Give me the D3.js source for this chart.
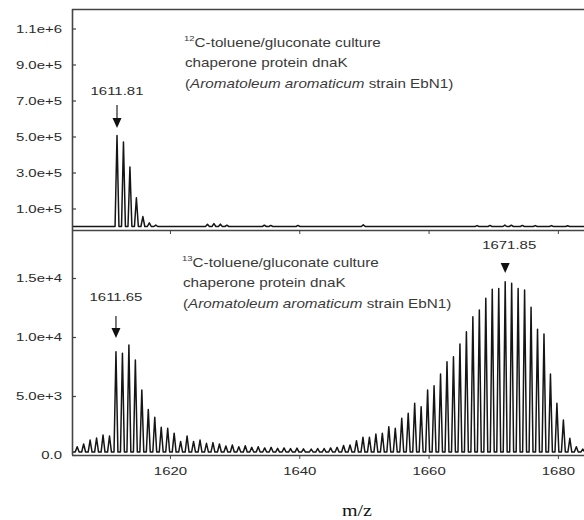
<!DOCTYPE html>
<html>
<head>
<meta charset="utf-8">
<script src="https://cdn.jsdelivr.net/npm/d3@7/dist/d3.min.js"></script>
<style>
  html, body { margin: 0; padding: 0; background: #fff; }
  svg { display: block; }
</style>
</head>
<body>
<svg id="chart" width="584" height="520"></svg>
<script>
// ---- 12C culture spectrum: isotope cluster plus minor signals ----
const lightMz  = [1611.81, 1612.81, 1613.81, 1614.81, 1615.81, 1616.81, 1617.81,
                  1625.8, 1626.8, 1627.8, 1628.8, 1634.6, 1635.6, 1639.8, 1649.9,
                  1667.5, 1669.5, 1671.8, 1672.8, 1674.5, 1676.5, 1679.0, 1681.5];
const lightInt = [505000, 470000, 330000, 160000, 55000, 20000, 8000,
                  12000, 16000, 13000, 7000, 7000, 6000, 6000, 9000,
                  5000, 6000, 8000, 7000, 6000, 5000, 5000, 4000];

// ---- 13C culture spectrum: unlabelled cluster ----
const unlabMz  = [1605.65, 1606.65, 1607.65, 1608.65, 1609.65, 1610.65, 1611.65, 1612.65,
                  1613.65, 1614.65, 1615.65, 1616.65, 1617.65, 1618.65, 1619.65, 1620.65,
                  1621.65, 1622.65, 1623.65, 1624.65, 1625.65, 1626.65, 1627.65, 1628.65,
                  1629.65, 1630.65, 1631.65, 1632.65, 1633.65, 1634.65, 1635.65, 1636.65,
                  1637.65, 1638.65, 1639.65, 1640.65];
const unlabInt = [700, 930, 1270, 1440, 1690, 1610, 8750, 8620,
                  9320, 8050, 5500, 3850, 3200, 2350, 2270, 1850,
                  1150, 1610, 1150, 1270, 990, 1050, 930, 760,
                  850, 700, 790, 650, 700, 600, 650, 560,
                  600, 540, 580, 520];

// ---- 13C culture spectrum: labelled cluster ----
const labMz  = [1641.85, 1642.85, 1643.85, 1644.85, 1645.85, 1646.85, 1647.85, 1648.85,
                1649.85, 1650.85, 1651.85, 1652.85, 1653.85, 1654.85, 1655.85, 1656.85,
                1657.85, 1658.85, 1659.85, 1660.85, 1661.85, 1662.85, 1663.85, 1664.85,
                1665.85, 1666.85, 1667.85, 1668.85, 1669.85, 1670.85, 1671.85, 1672.85,
                1673.85, 1674.85, 1675.85, 1676.85, 1677.85, 1678.85, 1679.85, 1680.85,
                1681.85, 1682.85, 1683.85];
const labInt = [500, 550, 550, 600, 650, 800, 850, 1210,
                1500, 1500, 1780, 1840, 2400, 2260, 3110, 3530,
                4380, 4090, 5510, 5870, 6860, 7910, 8330, 9410,
                10450, 11720, 12290, 13280, 14040, 14120, 14690, 14550,
                14120, 13980, 12520, 10650, 10250, 6860, 4380, 2970,
                1410, 700, 500];

// ---- axes ----
const xTicks        = [1620, 1640, 1660, 1680];
const xTickLabels   = ["1620", "1640", "1660", "1680"];
const topTicks      = [1e5, 3e5, 5e5, 7e5, 9e5, 1.1e6];
const topTickLabels = ["1.0e+5", "3.0e+5", "5.0e+5", "7.0e+5", "9.0e+5", "1.1e+6"];
const botTicks      = [0, 5000, 10000, 15000];
const botTickLabels = ["0.0", "5.0e+3", "1.0e+4", "1.5e+4"];

// ---- annotations ----
const topLabel = { mz: 1611.81, text: "1611.81" };
const botLabels = [
  { mz: 1611.65, text: "1611.65", stem: true },
  { mz: 1671.85, text: "1671.85", stem: false }
];

const svg = d3.select("#chart");
const SANS = "'Liberation Sans', Arial, Helvetica, sans-serif";
const SX = 1.3; // glyphs are drawn horizontally widened

const x    = d3.scaleLinear().domain([1604.85, 1692.7]).range([72, 640]);
const yTop = d3.scaleLinear().domain([0, 1.2e6]).range([226.5, 10.5]);
const yBot = d3.scaleLinear().domain([0, 19000]).range([455, 230.8]);

function wideText(g, px, py, str, opts = {}) {
  const t = g.append("text")
    .attr("transform", `translate(${px},${py}) scale(${opts.sx || SX},1)`)
    .attr("font-family", opts.family || SANS)
    .attr("font-size", opts.size || 11.5)
    .attr("fill", opts.fill || "#2b2b2b")
    .attr("text-anchor", opts.anchor || "start");
  if (str !== null) t.text(str);
  return t;
}

// spectrum trace: each peak as a narrow spike rising from a low baseline
function trace(mzs, ints, baseVal, halfWidth) {
  const pts = [];
  mzs.forEach((m, i) => {
    pts.push([m - halfWidth, baseVal], [m, ints[i]], [m + halfWidth, baseVal]);
  });
  return pts;
}

svg.append("defs").append("clipPath").attr("id", "plotclip")
  .append("rect").attr("x", 72).attr("y", 0).attr("width", 520).attr("height", 520);

function styleYAxis(g) {
  g.select(".domain").remove();
  g.selectAll(".tick line").attr("stroke", "#444").attr("stroke-width", 1.2);
  g.selectAll(".tick text")
    .attr("font-family", SANS).attr("font-size", 11.5).attr("fill", "#2b2b2b")
    .attr("transform", `scale(${SX},1)`).attr("x", -10 / SX);
}

function infoBlock(g, x0, y0, iso) {
  const l1 = wideText(g, x0, y0, null, { size: 12, sx: 1.27, fill: "#3a3a3a" });
  l1.append("tspan").attr("font-size", 7.5).attr("dy", -6).text(iso);
  l1.append("tspan").attr("dy", 6).text("C-toluene/gluconate culture");
  wideText(g, x0 + 1, y0 + 19.5, "chaperone protein dnaK", { size: 12, sx: 1.27, fill: "#3a3a3a" });
  const l3 = wideText(g, x0 + 1, y0 + 40.5, null, { size: 12, sx: 1.27, fill: "#3a3a3a" });
  l3.append("tspan").text("(");
  l3.append("tspan").attr("font-style", "italic").text("Aromatoleum aromaticum");
  l3.append("tspan").text(" strain EbN1)");
}

// ---------- upper panel ----------
const gTop = svg.append("g");
const topLine = d3.line().x(d => x(d[0])).y(d => yTop(d[1]));
const lightPts = trace(lightMz, lightInt, 0, 0.3).sort((a, b) => a[0] - b[0]);
gTop.append("path")
  .attr("clip-path", "url(#plotclip)")
  .attr("d", topLine([[1604.85, 0], ...lightPts, [1692.7, 0]]))
  .attr("fill", "none").attr("stroke", "#151515").attr("stroke-width", 1.5)
  .attr("stroke-linejoin", "round");

// frame top edge
gTop.append("line").attr("x1", 72).attr("x2", 640).attr("y1", 9.5).attr("y2", 9.5)
  .attr("stroke", "#444").attr("stroke-width", 1.6);

// panel separator with downward ticks
const topX = gTop.append("g").attr("transform", "translate(0,230)")
  .call(d3.axisBottom(x).tickValues(xTicks).tickSizeInner(4).tickSizeOuter(0).tickFormat(""));
topX.select(".domain").attr("stroke", "#444").attr("stroke-width", 1.6);
topX.selectAll(".tick line").attr("stroke", "#444");

gTop.append("g").attr("transform", "translate(72,0)")
  .call(d3.axisLeft(yTop).tickValues(topTicks).tickSizeInner(-4).tickSizeOuter(0)
    .tickFormat((d, i) => topTickLabels[i]))
  .call(styleYAxis);

infoBlock(gTop, 184, 47, "12");

{
  const px = x(topLabel.mz);
  wideText(gTop, px, 95, topLabel.text, { anchor: "middle" });
  gTop.append("line").attr("x1", px).attr("x2", px).attr("y1", 105).attr("y2", 119)
    .attr("stroke", "#222").attr("stroke-width", 1.2);
  gTop.append("path").attr("d", `M${px - 4.5},118 L${px + 4.5},118 L${px},128 Z`).attr("fill", "#111");
}

// ---------- lower panel ----------
const gBot = svg.append("g");
const botLine = d3.line().x(d => x(d[0])).y(d => yBot(d[1]));
const heavyPts = trace(unlabMz, unlabInt, 250, 0.3)
  .concat(trace(labMz, labInt, 250, 0.3))
  .sort((a, b) => a[0] - b[0]);
gBot.append("path")
  .attr("clip-path", "url(#plotclip)")
  .attr("d", botLine([[1604.85, 250], ...heavyPts, [1692.7, 250]]))
  .attr("fill", "none").attr("stroke", "#151515").attr("stroke-width", 1.5)
  .attr("stroke-linejoin", "round");

const botX = gBot.append("g").attr("transform", "translate(0,455)")
  .call(d3.axisBottom(x).tickValues(xTicks).tickSizeInner(4).tickSizeOuter(0).tickPadding(8)
    .tickFormat((d, i) => xTickLabels[i]));
botX.select(".domain").attr("stroke", "#444").attr("stroke-width", 1.6);
botX.selectAll(".tick line").attr("stroke", "#444");
botX.selectAll(".tick text")
  .attr("font-family", SANS).attr("font-size", 11.5).attr("fill", "#2b2b2b")
  .attr("transform", `scale(${SX},1)`);

gBot.append("g").attr("transform", "translate(72,0)")
  .call(d3.axisLeft(yBot).tickValues(botTicks).tickSizeInner(-4).tickSizeOuter(0)
    .tickFormat((d, i) => botTickLabels[i]))
  .call(styleYAxis);

// shared left edge
svg.append("line").attr("x1", 72.5).attr("x2", 72.5).attr("y1", 9).attr("y2", 455)
  .attr("stroke", "#444").attr("stroke-width", 1.6);

infoBlock(gBot, 182, 267, "13");

botLabels.forEach(l => {
  const px = x(l.mz);
  if (l.stem) {
    wideText(gBot, px, 301, l.text, { anchor: "middle" });
    gBot.append("line").attr("x1", px).attr("x2", px).attr("y1", 316).attr("y2", 329)
      .attr("stroke", "#222").attr("stroke-width", 1.2);
    gBot.append("path").attr("d", `M${px - 4.5},328 L${px + 4.5},328 L${px},338 Z`).attr("fill", "#111");
  } else {
    wideText(gBot, px + 4, 249, l.text, { anchor: "middle" });
    gBot.append("path").attr("d", `M${px - 4.5},263 L${px + 4.5},263 L${px},273 Z`).attr("fill", "#111");
  }
});

// axis title
wideText(svg, 357, 516, "m/z", {
  family: "'Liberation Serif', 'Times New Roman', serif", size: 16, sx: 1.25, anchor: "middle", fill: "#111"
});
</script>
</body>
</html>
